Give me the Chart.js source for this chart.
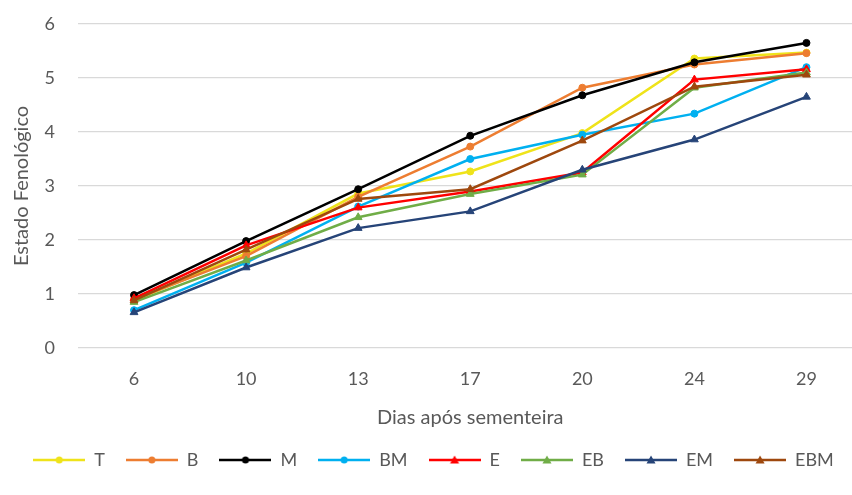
<!DOCTYPE html>
<html>
<head>
<meta charset="utf-8">
<script src="https://cdn.jsdelivr.net/npm/chart.js@4.4.1/dist/chart.umd.min.js"></script>
<style>
  html, body { margin: 0; padding: 0; background: #ffffff; overflow: hidden; }
  #wrap { position: relative; width: 868px; height: 495px; }
</style>
</head>
<body>
<div id="wrap"><canvas id="chart"></canvas></div>
<script>
// Days after sowing (x categories)
const days = ['6', '10', '13', '17', '20', '24', '29'];

// Phenological stage per treatment
const T   = [0.88, 1.75, 2.86, 3.27, 3.98, 5.36, 5.47];
const B   = [0.90, 1.70, 2.80, 3.73, 4.82, 5.25, 5.46];
const M   = [0.98, 1.98, 2.94, 3.93, 4.68, 5.29, 5.65];
const BM  = [0.70, 1.58, 2.62, 3.50, 3.95, 4.34, 5.20];
const E   = [0.92, 1.90, 2.60, 2.90, 3.25, 4.97, 5.16];
const EB  = [0.85, 1.62, 2.42, 2.85, 3.21, 4.82, 5.10];
const EM  = [0.66, 1.49, 2.22, 2.53, 3.30, 3.86, 4.65];
const EBM = [0.88, 1.82, 2.76, 2.94, 3.84, 4.84, 5.06];

const seriesNames = ['T', 'B', 'M', 'BM', 'E', 'EB', 'EM', 'EBM'];
const seriesData = [T, B, M, BM, E, EB, EM, EBM];
const seriesColors = ['#EFE31A', '#ED7D31', '#000000', '#00B0F0', '#FF0000', '#70AD47', '#264478', '#9E480E'];
const seriesMarkers = ['circle', 'circle', 'circle', 'circle', 'triangle', 'triangle', 'triangle', 'triangle'];

const TEXT = '#595959';
const FONT = 'Lato, "Open Sans", sans-serif';

// Legend swatch: a short line with the series marker in the middle
function legendSwatch(color, marker) {
  const c = document.createElement('canvas');
  c.width = 52; c.height = 12;
  const g = c.getContext('2d');
  g.strokeStyle = color;
  g.lineWidth = 2.5;
  g.beginPath(); g.moveTo(0, 6); g.lineTo(52, 6); g.stroke();
  g.fillStyle = color;
  g.beginPath();
  if (marker === 'circle') {
    g.arc(26, 6, 3.5, 0, Math.PI * 2);
  } else {
    g.moveTo(26, 1.5); g.lineTo(30.5, 9.5); g.lineTo(21.5, 9.5); g.closePath();
  }
  g.fill();
  return c;
}

const datasets = seriesNames.map((name, i) => ({
  label: name,
  data: seriesData[i],
  borderColor: seriesColors[i],
  backgroundColor: seriesColors[i],
  borderWidth: 2.5,
  pointStyle: seriesMarkers[i],
  pointRadius: seriesMarkers[i] === 'circle' ? 3.5 : 4.5,
  pointBorderWidth: 1,
  pointBackgroundColor: seriesColors[i],
  pointBorderColor: seriesColors[i],
  tension: 0,
  order: seriesNames.length - i
}));

const swatches = seriesNames.map((n, i) => legendSwatch(seriesColors[i], seriesMarkers[i]));

new Chart(document.getElementById('chart'), {
  type: 'line',
  data: { labels: days, datasets },
  options: {
    responsive: true,
    maintainAspectRatio: false,
    animation: false,
    layout: { padding: { top: 24, right: 1, bottom: 16, left: 0 } },
    plugins: {
      tooltip: { enabled: false },
      legend: {
        position: 'bottom',
        labels: {
          usePointStyle: true,
          pointStyleWidth: 52,
          boxHeight: 12,
          padding: 21,
          color: TEXT,
          font: { family: FONT, size: 18 },
          generateLabels: (chart) => chart.data.datasets.map((ds, i) => ({
            text: ds.label,
            fillStyle: ds.borderColor,
            strokeStyle: ds.borderColor,
            lineWidth: 0,
            pointStyle: swatches[i],
            hidden: false,
            datasetIndex: i,
            fontColor: TEXT
          }))
        }
      }
    },
    scales: {
      x: {
        type: 'category',
        offset: true,
        grid: { display: false, drawTicks: false },
        border: { display: false },
        ticks: { color: TEXT, padding: 20, font: { family: FONT, size: 18 } },
        title: {
          display: true,
          text: 'Dias após sementeira',
          color: TEXT,
          font: { family: FONT, size: 20 },
          padding: { top: 12, bottom: 0 }
        },
        afterFit: (scale) => { scale.height = 82; }
      },
      y: {
        min: 0,
        max: 6,
        ticks: { stepSize: 1, color: TEXT, padding: 23, font: { family: FONT, size: 18 } },
        grid: { color: '#D9D9D9', lineWidth: 1.3, drawTicks: false },
        border: { display: false },
        title: {
          display: true,
          text: 'Estado Fenológico',
          color: TEXT,
          font: { family: FONT, size: 20 },
          padding: { top: 10, bottom: 4 }
        },
        afterFit: (scale) => {
          scale.width = 78;
          scale.paddingTop = 0;
          scale.paddingBottom = 0;
        }
      }
    }
  }
});
</script>
</body>
</html>
